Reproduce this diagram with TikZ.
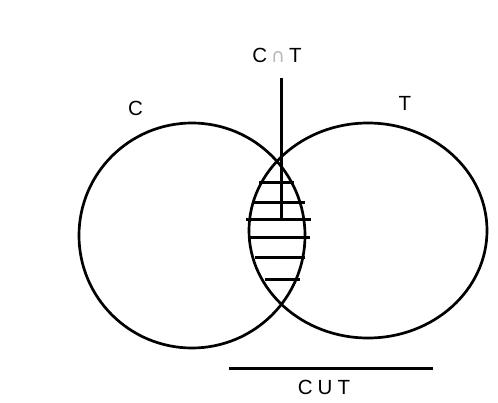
\documentclass[tikz,border=0pt]{standalone}
\usepackage{fontspec}
\setmainfont{Liberation Sans}
\newfontfamily\symfont{DejaVu Sans}
\begin{document}
\begin{tikzpicture}[x=1pt,y=-1pt,
  curve/.style={line width=2.7pt},
  hatch/.style={line width=3pt},
  lbl/.style={inner sep=0pt, font=\fontsize{20.5}{22}\selectfont}]
\useasboundingbox[fill=white] (0,0) rectangle (498,402);
% sets
\draw[curve] (192,235.5) ellipse [x radius=113, y radius=112.5];
\draw[curve] (368,230.5) ellipse [x radius=119, y radius=107.5];
% hatching
\foreach \y/\a/\b in {182.5/259/294, 202/253/305, 219/246/311, 237/250/310, 257/255/305, 279.5/265/300}{
  \draw[hatch] (\a,\y) -- (\b,\y);
}
% pointer line
\coordinate (ptop) at (281.5,78);
\coordinate (pbot) at (281.5,219);
\draw[hatch] (ptop) -- (pbot);
% union line
\coordinate (ua) at (229,368);
\coordinate (ub) at (433,368);
\draw[hatch] (ua) -- (ub);
% labels
\node[lbl] (lc) at (135.5,108.5) {C};
\node[lbl] (lt) at (405,103) {T};
\node[lbl] (lcap) at (277,55) {C\hspace{4pt}{\color{gray!55}\symfont\fontsize{19}{20}\selectfont ∩}\hspace{4pt}T};
\node[lbl] (lcup) at (324,387.5) {C\hspace{5pt}U\hspace{5pt}T};
\end{tikzpicture}
\end{document}
